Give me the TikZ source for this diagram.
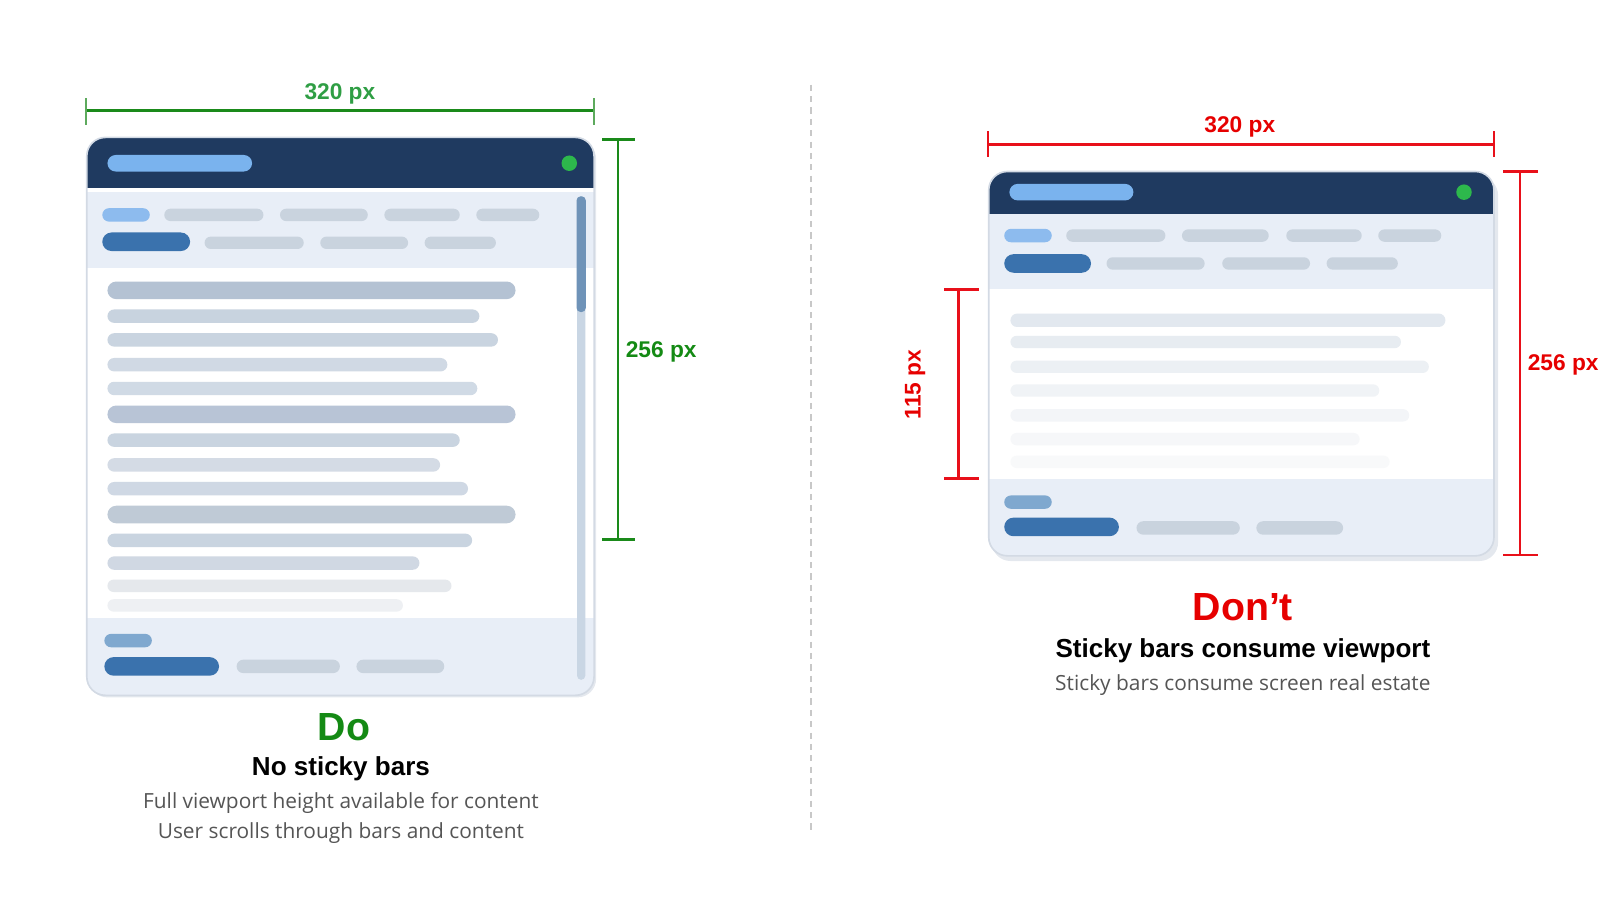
\documentclass[tikz,border=0pt]{standalone}
\usepackage{fontspec}
\setmainfont{Liberation Sans}
\newfontfamily\subfont{Open Sans}
\definecolor{navy}{HTML}{1F3A60}
\definecolor{hpill}{HTML}{7AB3EE}
\definecolor{dotg}{HTML}{2DB84C}
\definecolor{navbg}{HTML}{E8EEF7}
\definecolor{gpill}{HTML}{C9D3DE}
\definecolor{lbpill}{HTML}{8DBBEE}
\definecolor{dbpill}{HTML}{3A72AD}
\definecolor{mbpill}{HTML}{7FA8CF}
\definecolor{framec}{HTML}{D3DAE4}
\definecolor{shadowc}{HTML}{E4E8EE}
\definecolor{track}{HTML}{C9D6E4}
\definecolor{thumb}{HTML}{6F93B8}
\definecolor{gline}{HTML}{1A8A1A}
\definecolor{gtick}{HTML}{5DAA5D}
\definecolor{glab}{HTML}{2F9E44}
\definecolor{gtitle}{HTML}{148A14}
\definecolor{rline}{HTML}{E8101A}
\definecolor{rlab}{HTML}{E60000}
\definecolor{subgrey}{HTML}{555555}
\definecolor{divc}{HTML}{C8C8C8}
\newcommand\pill[5]{%
  \pgfmathsetmacro\pillrad{#5*0.25}%
  \fill[#1,rounded corners=\pillrad pt] (#2,#4-#5/2) rectangle (#3,#4+#5/2);}
\tikzset{
  dimlineg/.style={draw=gline,line width=1.25pt},
  dimtickg/.style={draw=gtick,line width=1pt},
  dimliner/.style={draw=rline,line width=1.2pt},
  dimtickr/.style={draw=rline,line width=1pt},
  dimlab/.style={font=\bfseries\fontsize{11}{13}\selectfont,inner sep=0pt,anchor=base},
  bigtitle/.style={font=\bfseries\fontsize{19}{22}\selectfont,inner sep=0pt,anchor=base},
  subtitle/.style={font=\bfseries\fontsize{12.6}{15}\selectfont,inner sep=0pt,anchor=base},
  subtext/.style={font=\subfont\fontsize{10.1}{14.5}\selectfont,text=subgrey,inner sep=0pt,anchor=base},
  framestyle/.style={draw=framec,line width=0.8pt,rounded corners=9pt}
}
\begin{document}
\begin{tikzpicture}[x=0.5pt,y=-0.5pt]
\useasboundingbox (0,0) rectangle (1568,883);

% ================= LEFT PANEL =================
\fill[shadowc,rounded corners=9pt] (86,136) rectangle (577,675);
\begin{scope}
\clip[rounded corners=9pt] (84,133) rectangle (575,673);
\fill[white] (84,133) rectangle (575,673);
\fill[navy] (84,133) rectangle (575,182);
\fill[navbg] (84,186) rectangle (575,259);
\fill[navbg] (84,598) rectangle (575,673);
\end{scope}
\draw[framestyle] (84,133) rectangle (575,673);
% header
\pill{hpill}{104}{244}{158}{16}
\fill[dotg] (551,158) circle (7.5);
% nav row 1
\pill{lbpill}{99}{145}{208}{13}
\pill{gpill}{159}{255}{208}{12}
\pill{gpill}{271}{356}{208}{12}
\pill{gpill}{372}{445}{208}{12}
\pill{gpill}{461}{522}{208}{12}
% nav row 2
\pill{dbpill}{99}{184}{234}{18}
\pill{gpill}{198}{294}{235}{12}
\pill{gpill}{310}{395}{235}{12}
\pill{gpill}{411}{480}{235}{12}
% content bars
\foreach \yy/\xx/\hh/\cc in {281/499/17/B4C2D3, 306/464/13/C8D3DF, 329/482/13/C9D4E0,
  353/433/13/D0D9E4, 376/462/13/D0DAE5, 401/499/17/B8C4D6, 426/445/13/C9D4E0,
  450/426/13/D4DBE5, 473/453/13/CFD8E4, 498/499/17/BFCAD6, 523/457/13/C9D4E0,
  545/406/13/D0D8E3, 567/437/12/E5E8EC, 586/390/12/EEF0F3}{
  \definecolor{barc}{HTML}{\cc}
  \pill{barc}{104}{\xx}{\yy}{\hh}
}
% footer
\pill{mbpill}{101}{147}{620}{13}
\pill{dbpill}{101}{212}{645}{18}
\pill{gpill}{229}{329}{645}{13}
\pill{gpill}{345}{430}{645}{13}
% scrollbar
\fill[track,rounded corners=2pt] (558.5,190) rectangle (566.5,658);
\fill[thumb,rounded corners=2pt] (558,190) rectangle (567,302);

% left dimensions
\coordinate (lhA) at (83,107);
\coordinate (lhB) at (575,107);
\draw[dimlineg] (lhA) -- (lhB);
\coordinate (lhAt) at (83,95); \coordinate (lhAb) at (83,121);
\coordinate (lhBt) at (575,95); \coordinate (lhBb) at (575,121);
\draw[dimtickg] (lhAt) -- (lhAb);
\draw[dimtickg] (lhBt) -- (lhBb);
\node[dimlab,text=glab] (lwlab) at (329,96) {320 px};

\coordinate (lvA) at (598,135);
\coordinate (lvB) at (598,522);
\draw[dimlineg] (lvA) -- (lvB);
\coordinate (lvAl) at (583,135); \coordinate (lvAr) at (615,135);
\coordinate (lvBl) at (583,522); \coordinate (lvBr) at (615,522);
\draw[dimlineg] (lvAl) -- (lvAr);
\draw[dimlineg] (lvBl) -- (lvBr);
\node[dimlab,text=gtitle] (lhlab) at (640,346) {256 px};

% left captions
\node[bigtitle,text=gtitle] (dotitle) at (333,717) {Do};
\node[subtitle] (dosub) at (330,751) {No sticky bars};
\node[subtext] (dotxt1) at (330,783) {Full viewport height available for content};
\node[subtext] (dotxt2) at (330,812) {User scrolls through bars and content};

% divider
\coordinate (divA) at (785,82);
\coordinate (divB) at (785,805);
\draw[divc,line width=0.6pt,dash pattern=on 3pt off 2.5pt] (divA) -- (divB);

% ================= RIGHT PANEL =================
\fill[shadowc,rounded corners=9pt] (960,171) rectangle (1450,543);
\begin{scope}
\clip[rounded corners=9pt] (957,166) rectangle (1446,538);
\fill[white] (957,166) rectangle (1446,538);
\fill[navy] (957,166) rectangle (1446,207);
\fill[navbg] (957,207) rectangle (1446,280);
\fill[navbg] (957,464) rectangle (1446,538);
\end{scope}
\draw[framestyle] (957,166) rectangle (1446,538);
% header
\pill{hpill}{977}{1097}{186}{16}
\fill[dotg] (1417,186) circle (7.5);
% nav rows
\pill{lbpill}{972}{1018}{228}{13}
\pill{gpill}{1032}{1128}{228}{12}
\pill{gpill}{1144}{1228}{228}{12}
\pill{gpill}{1245}{1318}{228}{12}
\pill{gpill}{1334}{1395}{228}{12}
\pill{dbpill}{972}{1056}{255}{18}
\pill{gpill}{1071}{1166}{255}{12}
\pill{gpill}{1183}{1268}{255}{12}
\pill{gpill}{1284}{1353}{255}{12}
% content bars (fading)
\foreach \yy/\xx/\hh/\cc in {310/1399/13/E2E8EF, 331/1356/12/E7ECF1, 355/1383/12/ECF0F4,
  378/1335/12/F0F3F6, 402/1364/12/F3F5F8, 425/1316/12/F6F7F9, 447/1345/12/F8F9FA}{
  \definecolor{barc}{HTML}{\cc}
  \pill{barc}{978}{\xx}{\yy}{\hh}
}
% footer
\pill{mbpill}{972}{1018}{486}{13}
\pill{dbpill}{972}{1083}{510}{18}
\pill{gpill}{1100}{1200}{511}{13}
\pill{gpill}{1216}{1300}{511}{13}

% right dimensions
\coordinate (rhA) at (956,140);
\coordinate (rhB) at (1446,140);
\draw[dimliner] (rhA) -- (rhB);
\coordinate (rhAt) at (956,127); \coordinate (rhAb) at (956,152);
\coordinate (rhBt) at (1446,127); \coordinate (rhBb) at (1446,152);
\draw[dimtickr] (rhAt) -- (rhAb);
\draw[dimtickr] (rhBt) -- (rhBb);
\node[dimlab,text=rlab] (rwlab) at (1200,128) {320 px};

\coordinate (rvA) at (1471,166);
\coordinate (rvB) at (1471,537);
\draw[dimliner] (rvA) -- (rvB);
\coordinate (rvAl) at (1455,166); \coordinate (rvAr) at (1489,166);
\coordinate (rvBl) at (1455,537); \coordinate (rvBr) at (1489,537);
\draw[dimliner] (rvAl) -- (rvAr);
\draw[dimliner] (rvBl) -- (rvBr);
\node[dimlab,text=rlab] (rhlab) at (1513,359) {256 px};

\coordinate (svA) at (928,280);
\coordinate (svB) at (928,463);
\draw[rline,line width=1.6pt] (svA) -- (svB);
\coordinate (svAl) at (914,280); \coordinate (svAr) at (948,280);
\coordinate (svBl) at (914,463); \coordinate (svBr) at (948,463);
\draw[rline,line width=1.6pt] (svAl) -- (svAr);
\draw[rline,line width=1.6pt] (svBl) -- (svBr);
\node[dimlab,text=rlab,rotate=90] (svlab) at (891,372) {115 px};

% right captions
\node[bigtitle,text=rlab] (donttitle) at (1203,601) {Don’t};
\node[subtitle] (dontsub) at (1203,636) {Sticky bars consume viewport};
\node[subtext] (donttxt) at (1203,668) {Sticky bars consume screen real estate};
\end{tikzpicture}
\end{document}
